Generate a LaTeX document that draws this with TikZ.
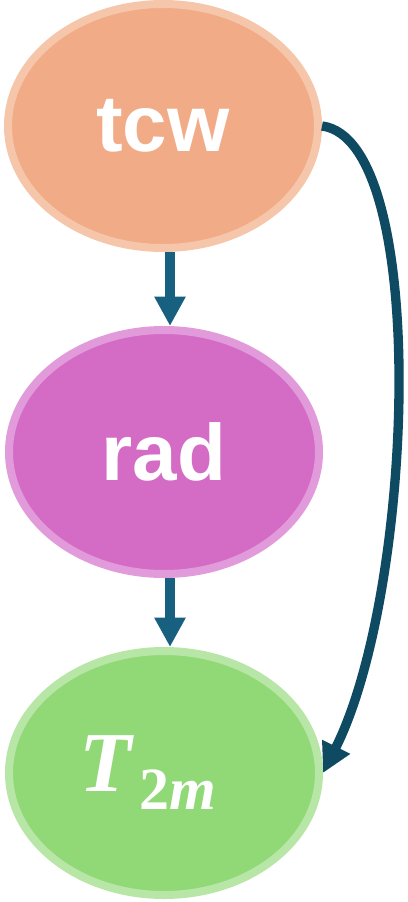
\documentclass[tikz,border=0pt]{standalone}
\usepackage{fontspec}
\setmainfont{Liberation Sans}
\newfontfamily\serifmath{Liberation Serif}
\usetikzlibrary{arrows.meta,shapes.geometric}
\definecolor{orfill}{HTML}{F1AB86}
\definecolor{ordraw}{HTML}{F5C6AA}
\definecolor{mgfill}{HTML}{D46CC6}
\definecolor{mgdraw}{HTML}{E29BDA}
\definecolor{grfill}{HTML}{91D977}
\definecolor{grdraw}{HTML}{B8E6A7}
\definecolor{arrA}{HTML}{17607F}
\definecolor{arrB}{HTML}{0F4A63}
\begin{document}
\begin{tikzpicture}[x=0.75pt,y=-0.75pt,
  blob/.style={ellipse,line width=6pt,minimum width=232.5pt,minimum height=183pt,inner sep=0pt,text=white},
  lbl/.style={font=\bfseries\fontsize{60}{64}\selectfont},
  down/.style={draw=arrA,line width=7.5pt,-{Triangle[width=22pt,length=22pt]}},
  side/.style={draw=arrB,line width=7pt,-{Triangle[width=22pt,length=22pt]}}]
\useasboundingbox (0,0) rectangle (407,902);
\node[blob,fill=orfill,draw=ordraw,lbl] (tcw) at (163,126) {tcw};
\node[blob,fill=mgfill,draw=mgdraw,lbl] (rad) at (164,452) {rad};
\node[blob,fill=grfill,draw=grdraw,font=\serifmath\bfseries] (t2m) at (164,773)
  {{\fontsize{64}{68}\selectfont\itshape T}\kern6pt\raisebox{-13.5pt}{\fontsize{45}{50}\selectfont 2\itshape m}\kern24pt};
\draw[down] (tcw.south -| 170,0) -- (rad.north -| 170,0);
\draw[down] (rad.south -| 170,0) -- (t2m.north -| 170,0);
\draw[side] (tcw.east) .. controls (430,140) and (415,590) .. (t2m.east);
\end{tikzpicture}
\end{document}
